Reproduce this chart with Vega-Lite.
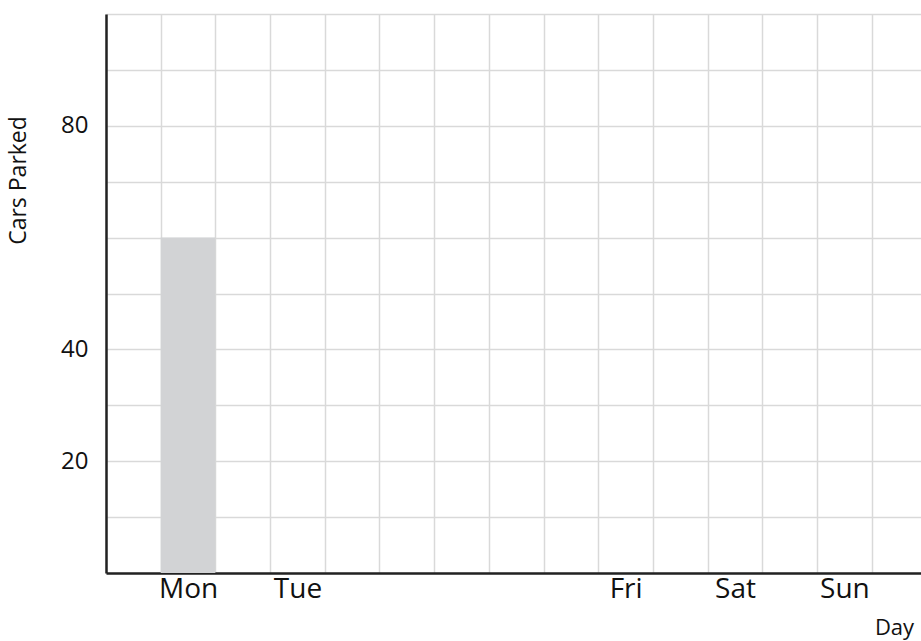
{
  "$schema": "https://vega.github.io/schema/vega-lite/v6.json",
  "width": 815,
  "height": 559,
  "autosize": {"type": "none"},
  "padding": {"left": 106, "top": 14, "right": 0, "bottom": 68},
  "background": "white",
  "data": {
    "values": [
      {"day": "Mon", "dayNumber": 1, "cars": 60},
      {"day": "Tue", "dayNumber": 2, "cars": null},
      {"day": "Wed", "dayNumber": 3, "cars": null},
      {"day": "Thu", "dayNumber": 4, "cars": null},
      {"day": "Fri", "dayNumber": 5, "cars": null},
      {"day": "Sat", "dayNumber": 6, "cars": null},
      {"day": "Sun", "dayNumber": 7, "cars": null}
    ]
  },
  "mark": {"type": "bar", "orient": "vertical", "width": 54.7, "color": "#d2d3d5"},
  "encoding": {
    "x": {
      "field": "dayNumber",
      "type": "quantitative",
      "scale": {"domain": [0.25, 7.7], "nice": false, "zero": false, "padding": 0},
      "axis": {
        "title": "Day",
        "values": [0.25, 0.75, 1, 1.25, 1.75, 2, 2.25, 2.75, 3, 3.25, 3.75, 4, 4.25, 4.75, 5, 5.25, 5.75, 6, 6.25, 6.75, 7, 7.25],
        "labelExpr": "datum.value === 1 ? 'Mon' : datum.value === 2 ? 'Tue' : datum.value === 5 ? 'Fri' : datum.value === 6 ? 'Sat' : datum.value === 7 ? 'Sun' : ''",
        "grid": true,
        "gridColor": "#d9d9d9",
        "gridWidth": 1.5,
        "gridOpacity": {"condition": {"test": "datum.value % 1 === 0", "value": 0}, "value": 1},
        "ticks": false,
        "tickSize": 0,
        "domainColor": "#222222",
        "domainWidth": 2.5,
        "labelFont": "Open Sans",
        "labelFontSize": 28,
        "labelColor": "#111111",
        "labelBaseline": "top",
        "labelPadding": 2,
        "labelFlush": false,
        "labelOverlap": false,
        "labelBound": false,
        "titleFont": "Open Sans",
        "titleFontSize": 22,
        "titleFontWeight": "normal",
        "titleColor": "#111111",
        "titleX": 788,
        "titleY": 54,
        "titleAlign": "center",
        "titleBaseline": "middle"
      }
    },
    "y": {
      "field": "cars",
      "type": "quantitative",
      "scale": {"domain": [0, 100], "nice": false, "padding": 0},
      "axis": {
        "title": "Cars Parked",
        "values": [0, 10, 20, 30, 40, 50, 60, 70, 80, 90, 100],
        "labelExpr": "datum.value === 20 || datum.value === 40 || datum.value === 80 ? datum.label : ''",
        "grid": true,
        "gridColor": "#d9d9d9",
        "gridWidth": 1.5,
        "ticks": false,
        "tickSize": 0,
        "domainColor": "#222222",
        "domainWidth": 2.5,
        "labelFont": "Open Sans",
        "labelFontSize": 24,
        "labelColor": "#111111",
        "labelPadding": 18,
        "labelFlush": false,
        "labelOverlap": false,
        "labelBound": false,
        "titleFont": "Open Sans",
        "titleFontSize": 23,
        "titleFontWeight": "normal",
        "titleColor": "#111111",
        "titleAngle": -90,
        "titleX": -88,
        "titleY": 166,
        "titleAlign": "center",
        "titleBaseline": "middle"
      }
    }
  },
  "config": {"view": {"stroke": null}}
}
